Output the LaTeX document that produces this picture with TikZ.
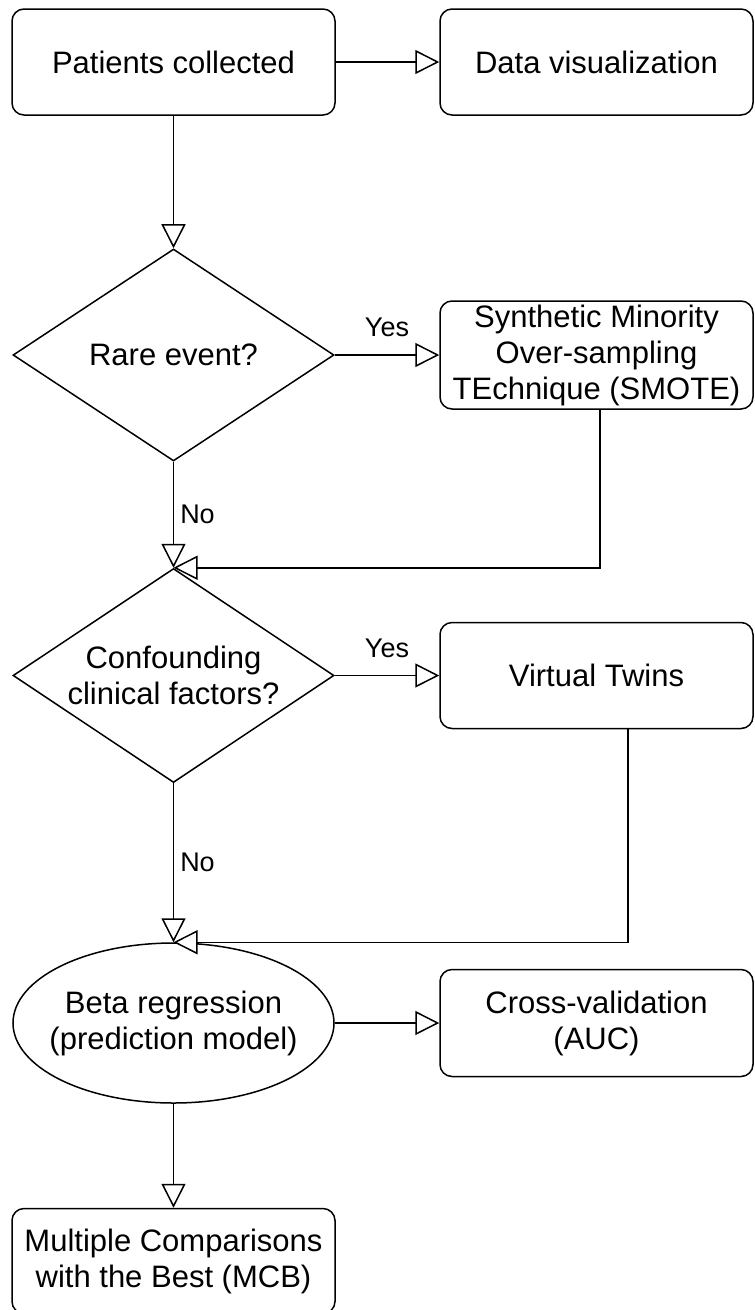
\documentclass[tikz,border=0pt]{standalone}
\usepackage{fontspec}
\setmainfont{Liberation Sans}
\usetikzlibrary{calc,shapes,arrows.meta,positioning}

\begin{document}
\begin{tikzpicture}[x=1pt,y=-1pt,line width=1.5pt]
\tikzstyle{block}=[draw, rounded corners=12pt, align=center, inner sep=2pt, minimum width=313pt, minimum height=106pt, font=\fontsize{31}{36}\selectfont]
\tikzstyle{decision}=[draw, diamond, aspect=1.514, inner sep=-3pt, minimum width=321pt, minimum height=212pt, align=center, font=\fontsize{31}{36}\selectfont]
\tikzstyle{model}=[draw, ellipse, inner sep=-12pt, minimum width=321pt, minimum height=160pt, align=center, font=\fontsize{31}{36}\selectfont]
\tikzstyle{flow}=[-{Triangle[open,fill=white,length=24pt,width=24pt]}]
\tikzstyle{lbl}=[font=\fontsize{27}{32}\selectfont, inner sep=2pt]
\useasboundingbox (0,0) rectangle (755,1310);
% left column
\node[block, minimum width=323pt] (pat) at (173.5,62) {Patients collected};
\node[decision] (rare) at (173.5,355) {Rare event?};
\node[decision, minimum height=214pt] (conf) at (173.5,675.5) {Confounding\\clinical factors?};
\node[model] (beta) at (173.5,1023) {Beta regression\\(prediction model)};
\node[block, minimum width=323pt, minimum height=105pt] (mcb) at (173.5,1261) {Multiple Comparisons\\with the Best (MCB)};
% right column
\node[block] (vis) at (596.5,62) {Data visualization};
\node[block, minimum height=108pt] (smote) at (596.5,355) {Synthetic Minority\\Over-sampling\\TEchnique (SMOTE)};
\node[block] (twins) at (596.5,675.5) {Virtual Twins};
\node[block, minimum height=107pt] (cv) at (596.5,1023) {Cross-validation\\(AUC)};
% arrows
\foreach \a/\b in {pat/vis,beta/cv}
    \draw[flow] (\a.east) -- (\a.east -| \b.west);
\foreach \a/\b/\n in {rare/smote/1,conf/twins/2}
    \draw[flow] (\a.east) -- node[lbl, above=15pt] (yes\n) {Yes} (\a.east -| \b.west);
\draw[flow] (pat) -- (rare);
\draw[flow] (beta) -- (mcb);
\draw[flow] (rare) -- node[lbl, right=4pt] (no1) {No} (conf);
\draw[flow] (conf) -- node[lbl, right=4pt] (no2) {No} (beta);
\draw[flow] ([xshift=3.5pt]smote.south) |- (conf.north);
\draw[flow] ([xshift=31.5pt]twins.south) |- (beta.north);
\end{tikzpicture}
\end{document}
